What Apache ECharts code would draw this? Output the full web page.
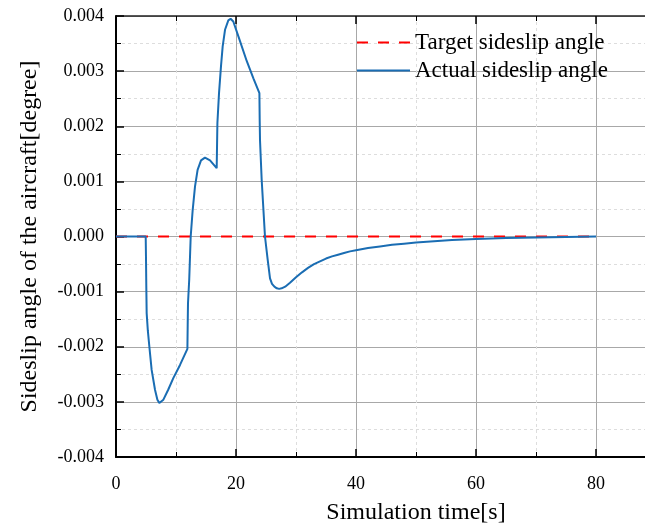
<!DOCTYPE html>
<html>
<head>
<meta charset="utf-8">
<script src="https://cdn.jsdelivr.net/npm/echarts@6/dist/echarts.min.js"></script>
<style>
html,body{margin:0;padding:0;background:#fff;overflow:hidden;}
#chart{width:720px;height:524px;}
</style>
</head>
<body>
<div id="chart"></div>
<script>
// Simulation time [s]
var actualTime = [0, 4.95, 5.0, 5.05, 5.11, 5.3, 5.56, 5.94, 6.5, 6.9, 7.22, 7.9, 8.7, 9.55, 10.67, 11.9, 11.95, 12.0, 12.2, 12.45, 12.78, 13.17, 13.6, 14.17, 14.83, 15.67, 16.78, 16.86, 16.9, 17.17, 17.5, 17.78, 18.17, 18.72, 19.1, 19.55, 20.4, 21.8, 22.9, 23.9, 23.95, 24.0, 24.28, 24.83, 25.28, 25.67, 26.0, 26.4, 26.8, 27.2, 27.6, 28.2, 29.0, 30.0, 31.0, 32.0, 33.0, 34.0, 35.0, 36.0, 37.0, 38.0, 39.0, 40.0, 42.0, 44.0, 46.0, 48.0, 50.0, 53.0, 56.0, 60.0, 65.0, 70.0, 75.0, 80.0];
// Actual sideslip angle [degree]
var actualValue = [0, 0, -0.0004, -0.0009, -0.00139, -0.0017, -0.0020, -0.00242, -0.00278, -0.00296, -0.00302, -0.00296, -0.00278, -0.00257, -0.00233, -0.00204, -0.0016, -0.00121, -0.00079, 0, 0.00048, 0.00091, 0.00121, 0.00138, 0.00143, 0.00138, 0.00124, 0.00124, 0.00206, 0.0026, 0.00309, 0.00345, 0.00375, 0.00392, 0.00395, 0.0039, 0.00363, 0.00318, 0.00287, 0.0026, 0.0021, 0.00175, 0.00103, 0, -0.00042, -0.00076, -0.00086, -0.00091, -0.00094, -0.00095, -0.00094, -0.00091, -0.00084, -0.00074, -0.00065, -0.00057, -0.0005, -0.00045, -0.0004, -0.00036, -0.00033, -0.0003, -0.00027, -0.00025, -0.00021, -0.00018, -0.00015, -0.00013, -0.00011, -0.000085, -0.000065, -0.000045, -0.000028, -0.000016, -0.000008, 0];
var targetTime = [0, 80];
var targetValue = [0, 0];
var xTicks = [0, 20, 40, 60, 80];
var yTicks = [-0.004, -0.003, -0.002, -0.001, 0.000, 0.001, 0.002, 0.003, 0.004];
var seriesNames = ['Target sideslip angle', 'Actual sideslip angle'];

function pairs(xs, ys) { return xs.map(function (x, i) { return [x, ys[i]]; }); }

var FONT = "'Liberation Serif', 'Times New Roman', serif";
var chart = echarts.init(document.getElementById('chart'), null, {renderer: 'canvas'});
var xCommon = {
  type: 'value', min: xTicks[0], max: 100, interval: xTicks[1] - xTicks[0]
};
chart.setOption({
  animation: false,
  backgroundColor: '#fff',
  grid: {left: 116, top: 16, width: 600, height: 441, containLabel: false, outerBoundsMode: 'none'},
  legend: {
    orient: 'vertical', left: 356, top: 31, padding: 0, itemGap: 5,
    itemWidth: 53, itemHeight: 10,
    itemStyle: {opacity: 0, color: 'rgba(0,0,0,0)', borderColor: 'rgba(0,0,0,0)', borderWidth: 0},
    textStyle: {fontFamily: FONT, fontSize: 23, color: '#000'},
    data: seriesNames
  },
  xAxis: [
    Object.assign({}, xCommon, {
      position: 'bottom',
      name: 'Simulation time[s]', nameLocation: 'middle', nameGap: 44,
      nameTextStyle: {fontFamily: FONT, fontSize: 24, color: '#000'},
      axisLine: {show: true, onZero: false, lineStyle: {color: '#000', width: 2}},
      axisTick: {show: true, inside: true, length: 8, lineStyle: {color: '#000', width: 1.5}},
      minorTick: {show: true, splitNumber: 2, length: 5, lineStyle: {color: '#000', width: 1}},
      axisLabel: {fontFamily: FONT, fontSize: 18, color: '#000', margin: 18,
        formatter: function (v) { return xTicks.indexOf(v) >= 0 ? String(v) : ''; }},
      splitLine: {show: true, lineStyle: {color: '#a8a8a8', width: 1}},
      minorSplitLine: {show: true, lineStyle: {color: '#dddddd', width: 1, type: [3, 3]}}
    }),
    Object.assign({}, xCommon, {
      position: 'top',
      axisLine: {show: true, onZero: false, lineStyle: {color: '#222', width: 1.5}},
      axisTick: {show: true, inside: true, length: 8, lineStyle: {color: '#000', width: 1.5}},
      minorTick: {show: true, splitNumber: 2, length: 5, lineStyle: {color: '#000', width: 1}},
      axisLabel: {show: false},
      splitLine: {show: false}
    })
  ],
  yAxis: {
    type: 'value', min: yTicks[0], max: yTicks[yTicks.length - 1], interval: 0.001,
    name: 'Sideslip angle of the aircraft[degree]', nameLocation: 'middle', nameGap: 74,
    nameTextStyle: {fontFamily: FONT, fontSize: 24, color: '#000'},
    axisLine: {show: true, onZero: false, lineStyle: {color: '#000', width: 2}},
    axisTick: {show: true, inside: true, length: 8, lineStyle: {color: '#000', width: 1.5}},
    minorTick: {show: true, splitNumber: 2, length: 5, lineStyle: {color: '#000', width: 1}},
    axisLabel: {fontFamily: FONT, fontSize: 18, color: '#000', margin: 12,
      formatter: function (v) { return (Math.abs(v) < 1e-12 ? 0 : v).toFixed(3); }},
    splitLine: {show: true, lineStyle: {color: '#a8a8a8', width: 1}},
    minorSplitLine: {show: true, lineStyle: {color: '#dddddd', width: 1, type: [3, 3]}}
  },
  series: [
    {
      name: seriesNames[0], type: 'line', data: pairs(targetTime, targetValue),
      showSymbol: false, symbol: 'none', z: 2,
      lineStyle: {color: '#ff0000', width: 2, type: [11, 10]},
      itemStyle: {color: '#ff0000'}
    },
    {
      name: seriesNames[1], type: 'line', data: pairs(actualTime, actualValue),
      showSymbol: false, symbol: 'none', z: 5,
      lineStyle: {color: '#1a6db3', width: 2},
      itemStyle: {color: '#1a6db3'}
    }
  ]
});
</script>
</body>
</html>
